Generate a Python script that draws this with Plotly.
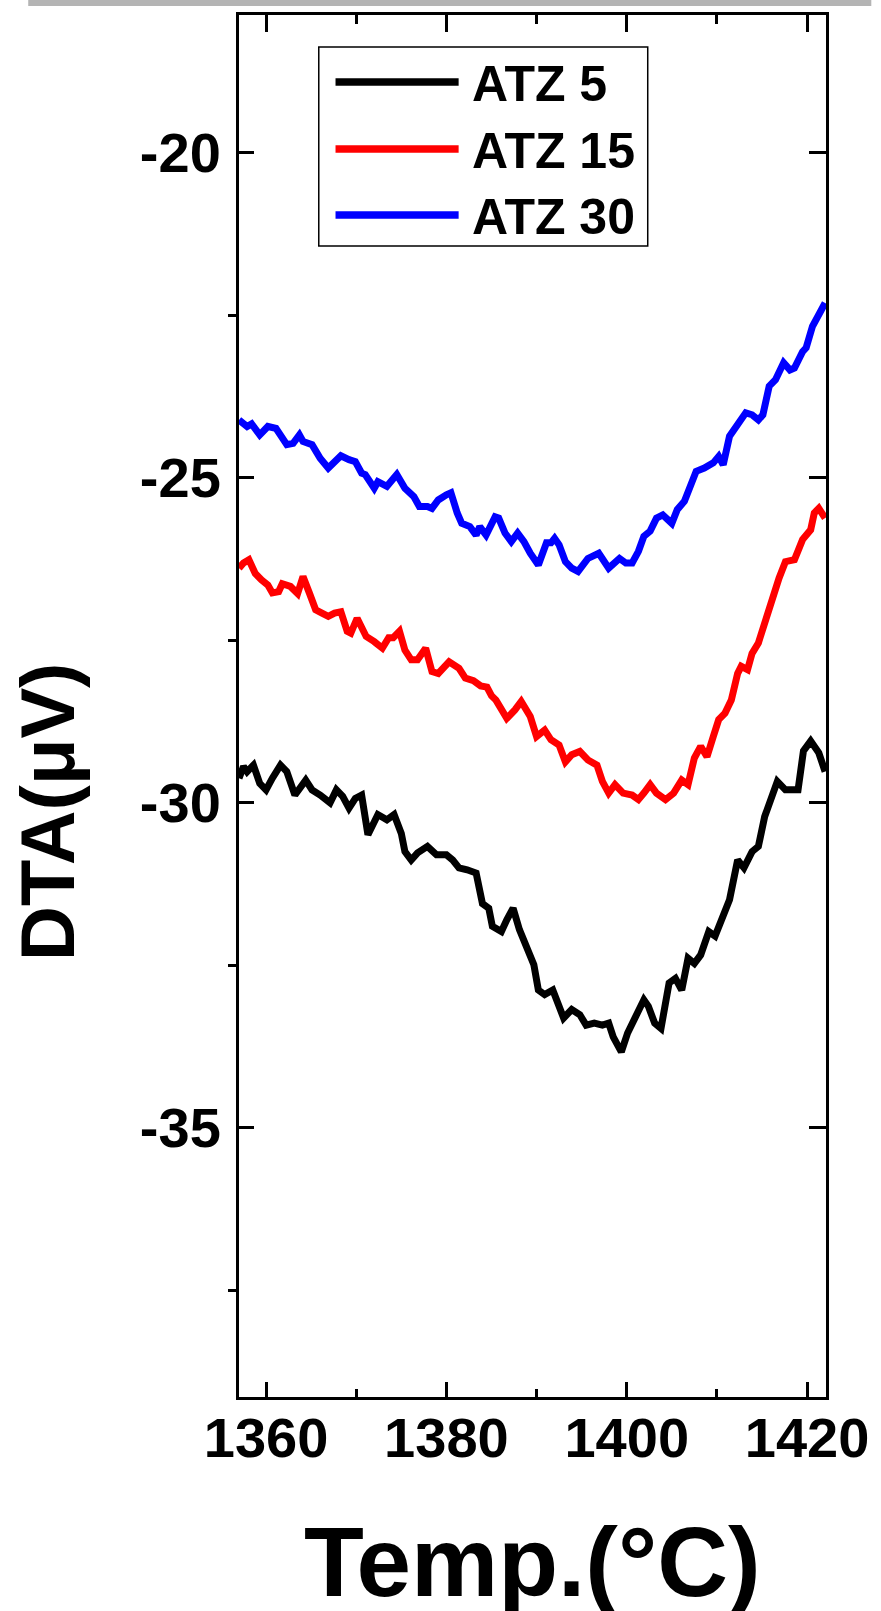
import plotly.graph_objects as go

# ---------------- data ----------------
series_names = ["ATZ 5", "ATZ 15", "ATZ 30"]
series_colors = ["#000000", "#ff0000", "#0000ff"]

temp_atz5 = [1357.0, 1357.5, 1357.9, 1358.6, 1359.3, 1360.0, 1360.7, 1361.6, 1362.3, 1363.2,
             1364.4, 1365.1, 1366.0, 1367.1, 1367.8, 1368.5, 1369.2, 1369.9, 1370.6, 1371.3,
             1372.4, 1373.4, 1374.2, 1375.0, 1375.4, 1376.1, 1376.8, 1377.9, 1378.9, 1380.0,
             1380.7, 1381.4, 1382.3, 1383.3, 1384.0, 1384.7, 1385.1, 1386.1, 1386.7, 1387.4,
             1388.1, 1388.8, 1389.7, 1390.2, 1390.9, 1391.8, 1392.5, 1393.0, 1393.9, 1394.8,
             1395.5, 1396.4, 1397.3, 1398.0, 1398.5, 1399.4, 1400.1, 1401.0, 1401.9, 1402.4,
             1403.1, 1403.8, 1404.7, 1405.4, 1406.1, 1406.8, 1407.5, 1408.2, 1409.1, 1409.8,
             1410.7, 1411.4, 1412.3, 1413.0, 1413.9, 1414.6, 1415.3, 1416.0, 1416.7, 1417.6,
             1418.3, 1419.0, 1419.6, 1420.4, 1421.3, 1422.0]
dta_atz5 = [-29.62, -29.44, -29.52, -29.42, -29.70, -29.80, -29.62, -29.42, -29.52, -29.88,
            -29.65, -29.80, -29.88, -30.00, -29.80, -29.90, -30.08, -29.93, -29.88, -30.49,
            -30.18, -30.26, -30.18, -30.47, -30.75, -30.88, -30.77, -30.67, -30.80, -30.80,
            -30.88, -31.00, -31.03, -31.08, -31.55, -31.62, -31.90, -31.98, -31.80, -31.62,
            -31.95, -32.21, -32.49, -32.88, -32.95, -32.88, -33.13, -33.31, -33.18, -33.26,
            -33.42, -33.39, -33.42, -33.39, -33.60, -33.83, -33.54, -33.31, -33.03, -33.13,
            -33.39, -33.47, -32.77, -32.70, -32.88, -32.39, -32.47, -32.34, -31.98, -32.05,
            -31.70, -31.49, -30.88, -31.00, -30.75, -30.67, -30.21, -29.90, -29.67, -29.80,
            -29.80, -29.80, -29.20, -29.05, -29.23, -29.52]

temp_atz15 = [1357.0, 1357.5, 1358.1, 1358.8, 1359.5, 1360.2, 1360.7, 1361.4, 1361.8, 1362.7,
              1363.5, 1364.1, 1364.8, 1365.5, 1366.2, 1366.9, 1367.6, 1368.3, 1369.0, 1369.4,
              1370.1, 1371.1, 1372.0, 1372.9, 1373.6, 1374.1, 1374.8, 1375.4, 1376.1, 1376.8,
              1377.7, 1378.4, 1379.1, 1380.3, 1381.4, 1382.1, 1383.0, 1383.8, 1384.5, 1385.0,
              1385.5, 1386.7, 1387.6, 1388.3, 1389.3, 1390.0, 1390.9, 1391.6, 1392.5, 1393.2,
              1393.9, 1394.8, 1395.7, 1396.7, 1397.3, 1398.0, 1398.7, 1399.6, 1400.6, 1401.3,
              1401.9, 1402.6, 1403.3, 1404.3, 1405.2, 1406.1, 1406.8, 1407.5, 1408.2, 1408.9,
              1409.6, 1410.2, 1410.9, 1411.6, 1412.3, 1412.7, 1413.4, 1413.9, 1414.6, 1415.3,
              1416.2, 1416.9, 1417.6, 1418.6, 1419.5, 1420.4, 1420.8, 1421.3, 1422.0]
dta_atz15 = [-26.39, -26.31, -26.26, -26.47, -26.57, -26.65, -26.77, -26.75, -26.63, -26.67,
             -26.78, -26.52, -26.77, -27.03, -27.08, -27.13, -27.08, -27.06, -27.36, -27.39,
             -27.16, -27.44, -27.52, -27.62, -27.46, -27.46, -27.36, -27.65, -27.80, -27.80,
             -27.62, -27.98, -28.01, -27.83, -27.93, -28.08, -28.12, -28.20, -28.22, -28.35,
             -28.42, -28.70, -28.57, -28.44, -28.67, -28.98, -28.88, -29.03, -29.11, -29.37,
             -29.26, -29.21, -29.34, -29.42, -29.67, -29.85, -29.72, -29.85, -29.88, -29.95,
             -29.85, -29.72, -29.85, -29.95, -29.85, -29.65, -29.72, -29.31, -29.13, -29.29,
             -28.98, -28.72, -28.62, -28.42, -28.01, -27.90, -27.95, -27.70, -27.54, -27.21,
             -26.82, -26.54, -26.29, -26.26, -25.95, -25.80, -25.54, -25.47, -25.62]

temp_atz30 = [1357.0, 1357.9, 1358.4, 1359.3, 1360.2, 1361.1, 1362.3, 1363.0, 1363.7, 1364.1,
              1365.1, 1366.0, 1366.9, 1368.3, 1369.2, 1369.9, 1370.6, 1371.0, 1372.0, 1372.4,
              1373.4, 1374.5, 1375.4, 1376.4, 1377.0, 1377.9, 1378.4, 1379.1, 1380.0, 1380.5,
              1381.2, 1381.7, 1382.6, 1383.3, 1383.7, 1384.4, 1385.4, 1385.8, 1386.5, 1387.2,
              1387.9, 1388.6, 1389.3, 1390.2, 1391.1, 1391.6, 1392.0, 1392.5, 1393.2, 1393.9,
              1394.6, 1395.7, 1396.9, 1398.0, 1399.2, 1399.9, 1400.6, 1401.3, 1401.9, 1402.6,
              1403.3, 1404.0, 1405.0, 1405.6, 1406.4, 1407.0, 1407.7, 1408.6, 1409.6, 1410.2,
              1410.7, 1411.4, 1412.3, 1413.2, 1413.9, 1414.6, 1415.1, 1415.8, 1416.5, 1417.4,
              1418.1, 1418.6, 1419.5, 1419.9, 1420.6, 1421.6, 1422.0]
dta_atz30 = [-24.11, -24.21, -24.17, -24.34, -24.21, -24.24, -24.49, -24.47, -24.34, -24.44,
             -24.49, -24.70, -24.85, -24.66, -24.72, -24.75, -24.93, -24.95, -25.16, -25.06,
             -25.13, -24.95, -25.16, -25.29, -25.44, -25.44, -25.47, -25.34, -25.26, -25.23,
             -25.54, -25.70, -25.75, -25.88, -25.75, -25.88, -25.60, -25.62, -25.85, -25.98,
             -25.85, -25.98, -26.16, -26.34, -26.00, -26.00, -25.93, -26.03, -26.29, -26.39,
             -26.44, -26.24, -26.16, -26.39, -26.24, -26.31, -26.31, -26.13, -25.90, -25.82,
             -25.62, -25.57, -25.70, -25.49, -25.36, -25.16, -24.90, -24.85, -24.77, -24.67,
             -24.80, -24.36, -24.16, -24.00, -24.03, -24.11, -24.03, -23.59, -23.49, -23.23,
             -23.34, -23.31, -23.06, -23.00, -22.67, -22.44, -22.31]

x_major_ticks = [1360, 1380, 1400, 1420]
x_major_labels = ["1360", "1380", "1400", "1420"]
x_minor_ticks = [1370, 1390, 1410]
y_major_ticks = [-20, -25, -30, -35]
y_major_labels = ["-20", "-25", "-30", "-35"]
y_minor_ticks = [-22.5, -27.5, -32.5, -37.5]

x_title = "Temp.(°C)"
y_title = "DTA(μV)"

x_range = [1357.0, 1422.1]
y_range = [-39.14, -17.88]

# ---------------- figure ----------------
W, H = 881, 1611
L, R, T, B = 239, 835, 15, 1397   # plot area in pixels
FONT = "Liberation Sans, Arial, sans-serif"


def px(xp):
    return (xp - L) / (R - L)


def py(yp):
    return (B - yp) / (B - T)


fig = go.Figure()
all_x = [temp_atz5, temp_atz15, temp_atz30]
all_y = [dta_atz5, dta_atz15, dta_atz30]
axes_pairs = [("x", "y"), ("x", "y"), ("x2", "y2")]
for name, color, xs, ys, (xa, ya) in zip(series_names, series_colors, all_x, all_y, axes_pairs):
    fig.add_trace(go.Scatter(x=xs, y=ys, mode="lines", name=name, showlegend=False,
                             xaxis=xa, yaxis=ya, hoverinfo="skip",
                             line=dict(color=color, width=7, shape="linear")))

axis_common = dict(showgrid=False, zeroline=False, showline=True, linecolor="black",
                   linewidth=3, tickcolor="black", tickwidth=3)

fig.update_layout(
    width=W, height=H,
    margin=dict(l=L, r=W - R, t=T, b=H - B, pad=0),
    paper_bgcolor="white", plot_bgcolor="white",
    font=dict(family=FONT, color="black"),
    xaxis=dict(range=x_range, tickvals=x_major_ticks, ticktext=x_major_labels,
               ticks="inside", ticklen=15,
               tickfont=dict(family=FONT, size=56, color="black", weight="bold"),
               ticklabelstandoff=-10,
               minor=dict(tickvals=x_minor_ticks, ticks="inside", ticklen=8,
                          tickwidth=3, tickcolor="black"),
               **axis_common),
    yaxis=dict(range=y_range, tickvals=y_major_ticks, ticktext=y_major_labels,
               ticks="inside", ticklen=15,
               tickfont=dict(family=FONT, size=56, color="black", weight="bold"),
               ticklabelstandoff=4,
               minor=dict(tickvals=y_minor_ticks, ticks="outside", ticklen=8,
                          tickwidth=3, tickcolor="black"),
               **axis_common),
    xaxis2=dict(range=x_range, overlaying="x", side="top", anchor="y2",
                tickvals=x_major_ticks, ticks="inside", ticklen=17, showticklabels=False,
                minor=dict(tickvals=x_minor_ticks, ticks="inside", ticklen=9,
                           tickwidth=3, tickcolor="black"),
                **axis_common),
    yaxis2=dict(range=y_range, overlaying="y", side="right", anchor="x2",
                tickvals=y_major_ticks, ticks="inside", ticklen=17, showticklabels=False,
                **axis_common),
)

shapes = []
annotations = []

# grey strip at the very top of the image
shapes.append(dict(type="rect", xref="paper", yref="paper",
                   x0=px(25), x1=px(881), y0=py(0), y1=py(6),
                   fillcolor="#b4b4b4", line=dict(width=0), layer="above"))

# legend box
shapes.append(dict(type="rect", xref="paper", yref="paper",
                   x0=px(320), x1=px(654), y0=py(246), y1=py(47),
                   fillcolor="white", line=dict(color="black", width=1.5), layer="above"))
legend_rows = [82, 149, 215]
for name, color, yrow in zip(series_names, series_colors, legend_rows):
    shapes.append(dict(type="line", xref="paper", yref="paper",
                       x0=px(337), x1=px(462), y0=py(yrow), y1=py(yrow),
                       line=dict(color=color, width=7.5), layer="above"))
    annotations.append(dict(text=name, xref="paper", yref="paper",
                            x=px(474), y=py(yrow + 2), xanchor="left", yanchor="middle",
                            showarrow=False,
                            font=dict(family=FONT, size=50, color="black", weight="bold")))

# axis titles
annotations.append(dict(text=y_title, xref="paper", yref="paper",
                        x=px(44), y=py(812), xanchor="center", yanchor="middle",
                        textangle=-90, showarrow=False,
                        font=dict(family=FONT, size=76, color="black", weight="bold")))
annotations.append(dict(text=x_title, xref="paper", yref="paper",
                        x=px(537), y=py(1562), xanchor="center", yanchor="middle",
                        showarrow=False,
                        font=dict(family=FONT, size=98, color="black", weight="bold")))

fig.update_layout(shapes=shapes, annotations=annotations)
fig.write_html("out.html", config={"displayModeBar": False, "staticPlot": True},
               post_script="document.body.style.margin='0';")
